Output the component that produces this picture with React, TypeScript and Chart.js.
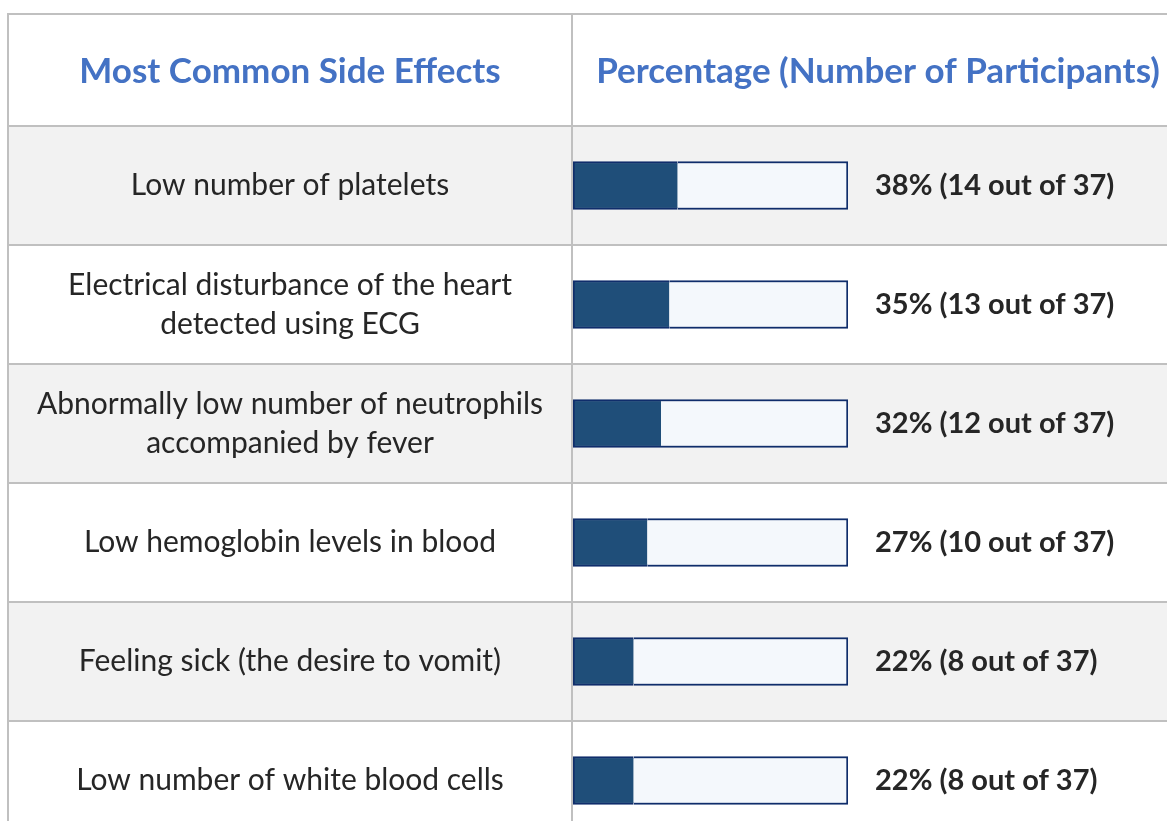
import React, { useEffect, useRef } from "react";
import { Chart, registerables } from "chart.js";

Chart.register(...registerables);

const headerLeft = "Most Common Side Effects";
const headerRight = "Percentage (Number of Participants)";
const labelLines: string[][] = [
  ["Low number of platelets"],
  ["Electrical disturbance of the heart", "detected using ECG"],
  ["Abnormally low number of neutrophils", "accompanied by fever"],
  ["Low hemoglobin levels in blood"],
  ["Feeling sick (the desire to vomit)"],
  ["Low number of white blood cells"],
];
const percentages = [38, 35, 32, 27, 22, 22];
const counts = [14, 13, 12, 10, 8, 8];
const totalParticipants = 37;

const W = 1167;
const H = 840;
const FONT = "Lato, 'Open Sans', sans-serif";

export default function App() {
  const ref = useRef<HTMLCanvasElement>(null);
  useEffect(() => {
    document.body.style.margin = "0";
    document.body.style.overflow = "hidden";
    const canvas = ref.current!;
    const tablePlugin = {
      id: "tableDecor",
      beforeDraw(chart: any) {
        const ctx = chart.ctx;
        const ys = chart.scales.y;
        const n = labelLines.length;
        const step = ys.getPixelForValue(1) - ys.getPixelForValue(0);
        ctx.save();
        ctx.fillStyle = "#ffffff";
        ctx.fillRect(0, 0, W, H);
        for (let i = 0; i < n; i++) {
          const cy = ys.getPixelForValue(i);
          if (i % 2 === 0) {
            ctx.fillStyle = "#f2f2f2";
            ctx.fillRect(8, cy - step / 2, W - 8, step);
          }
        }
        ctx.strokeStyle = "#c0c0c0";
        ctx.lineWidth = 2;
        const line = (x1: number, y1: number, x2: number, y2: number) => {
          ctx.beginPath();
          ctx.moveTo(x1, y1);
          ctx.lineTo(x2, y2);
          ctx.stroke();
        };
        line(7, 14, W, 14);
        line(8, 13, 8, H);
        line(572, 13, 572, H);
        const top = chart.chartArea.top;
        line(7, top, W, top);
        for (let i = 0; i < n; i++) {
          const cy = ys.getPixelForValue(i);
          line(7, cy + step / 2, W, cy + step / 2);
        }
        // headers
        ctx.fillStyle = "#4472c4";
        ctx.font = `bold 35px ${FONT}`;
        ctx.textAlign = "center";
        ctx.textBaseline = "middle";
        ctx.fillText(headerLeft, 290, 72);
        ctx.fillText(headerRight, 878, 72);
        ctx.restore();
      },
      afterDatasetsDraw(chart: any) {
        const ctx = chart.ctx;
        const ys = chart.scales.y;
        const xs = chart.scales.x;
        ctx.save();
        ctx.fillStyle = "#262626";
        ctx.textBaseline = "middle";
        for (let i = 0; i < labelLines.length; i++) {
          const cy = ys.getPixelForValue(i);
          const lines = labelLines[i];
          ctx.font = `30px ${FONT}`;
          ctx.textAlign = "center";
          const lh = 39;
          lines.forEach((t, k) => {
            ctx.fillText(t, 290, cy + (k - (lines.length - 1) / 2) * lh);
          });
          ctx.font = `bold 29px ${FONT}`;
          ctx.textAlign = "left";
          ctx.fillText(
            `${percentages[i]}% (${counts[i]} out of ${totalParticipants})`,
            xs.getPixelForValue(100) + 27,
            cy
          );
        }
        ctx.restore();
      },
    };

    const chart = new Chart(canvas, {
      type: "bar",
      data: {
        labels: labelLines.map((l) => l.join(" ")),
        datasets: [
          {
            data: percentages,
            backgroundColor: "#1f4e79",
            borderColor: "#0f2d6b",
            borderWidth: { top: 2, bottom: 2, left: 2, right: 0 },
            borderSkipped: false,
            barThickness: 48,
          },
          {
            data: percentages.map((p) => 100 - p),
            backgroundColor: "#f4f8fc",
            borderColor: "#0f2d6b",
            borderWidth: { top: 2, bottom: 2, left: 0, right: 2 },
            borderSkipped: false,
            barThickness: 48,
          },
        ],
      },
      options: {
        indexAxis: "y",
        responsive: false,
        animation: false,
        devicePixelRatio: 1,
        layout: { padding: { left: 573, right: W - 848, top: 126, bottom: 0 } },
        scales: {
          x: { stacked: true, min: 0, max: 100, display: false },
          y: { stacked: true, display: false },
        },
        plugins: { legend: { display: false }, tooltip: { enabled: false } },
      },
      plugins: [tablePlugin],
    } as any);
    return () => chart.destroy();
  }, []);
  return <canvas ref={ref} width={W} height={H} style={{ display: "block" }} />;
}
